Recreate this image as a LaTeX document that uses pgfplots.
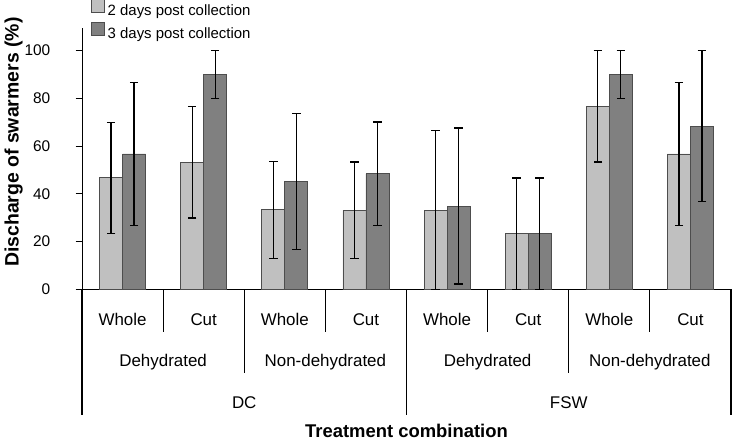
\documentclass[border=0pt]{standalone}
\usepackage{fontspec}
\setmainfont{Liberation Sans}
\usepackage{pgfplots}
\pgfplotsset{compat=1.18}
\definecolor{lightbar}{HTML}{C0C0C0}
\definecolor{darkbar}{HTML}{808080}
\definecolor{edge}{HTML}{4D4D4D}
\newcommand{\tl}[1]{{\fontsize{15.5}{18}\selectfont #1}}
\begin{document}
\begin{tikzpicture}
\useasboundingbox (0,0) rectangle (732bp,442bp);
\begin{axis}[
  at={(82bp,152.7bp)}, anchor=south west,
  scale only axis, width=649bp, height=261.3bp,
  xmin=-0.5, xmax=7.5, ymin=0, ymax=109.5,
  axis lines=left, axis line style={-, line width=1bp, black},
  ybar=0pt, bar width=23bp,
  xtick={0,...,7}, xticklabels={Whole,Cut,Whole,Cut,Whole,Cut,Whole,Cut},
  xtick style={draw=none}, ytick={0,20,40,60,80,100},
  ytick style={black, line width=1bp}, ytick align=outside, major tick length=6.5bp,
  yticklabels={\tl{0},\tl{20},\tl{40},\tl{60},\tl{80},\tl{100}},
  xticklabel style={anchor=base, inner sep=0pt, yshift=-29.5bp, font=\fontsize{17}{20}\selectfont},
  yticklabel style={anchor=east, inner sep=0pt, xshift=-25bp},
  ylabel={Discharge of swarmers (\%)},
  ylabel style={at={(axis description cs:-0.0978,0.563)}, anchor=base, font=\bfseries\fontsize{19.5}{23}\selectfont},
  xlabel={Treatment combination},
  xlabel style={at={(axis description cs:0.5,0)}, anchor=base, yshift=-148.3bp, font=\bfseries\fontsize{18.5}{22}\selectfont},
  clip=false,
  legend style={at={(axis description cs:0.0134,1.11)}, anchor=north west, draw=none, fill=none,
    inner sep=0pt, row sep=3bp, column sep=3bp, font=\fontsize{15}{18}\selectfont,
    nodes={inner sep=0pt, text height=11bp, text depth=3bp}},
  legend cell align=left,
  error bars/y dir=both, error bars/y explicit,
  error bars/error bar style={line width=1.3bp, black},
  error bars/error mark options={rotate=90, mark size=4.3bp, line width=1.3bp, black},
]
\addplot[fill=lightbar, draw=edge, line width=0.8bp,
  legend image code/.code={\draw[fill=lightbar, draw=edge, line width=0.8bp] (0bp,-1bp) rectangle (13bp,12bp);}]
  coordinates {
  (0,46.7) +- (0,23.3)
  (1,53.3) +- (0,23.4)
  (2,33.3) +- (0,20.3)
  (3,33.1) +- (0,20.3)
  (4,33.1) +- (0,33.3)
  (5,23.3) +- (0,23.3)
  (6,76.7) +- (0,23.3)
  (7,56.7) +- (0,29.9)
};
\addlegendentry{2 days post collection}
\addplot[fill=darkbar, draw=edge, line width=0.8bp,
  legend image code/.code={\draw[fill=darkbar, draw=edge, line width=0.8bp] (0bp,-1bp) rectangle (13bp,12bp);}]
  coordinates {
  (0,56.7) +- (0,29.9)
  (1,90.0) +- (0,10.0)
  (2,45.1) +- (0,28.5)
  (3,48.4) +- (0,21.7)
  (4,34.9) +- (0,32.7)
  (5,23.3) +- (0,23.3)
  (6,90.0) +- (0,10.0)
  (7,68.4) +- (0,31.6)
};
\addlegendentry{3 days post collection}
% separators
\pgfplotsinvokeforeach{0.5,2.5,4.5,6.5}{\draw[line width=1.1bp] (axis cs:#1,0) -- ([yshift=-42.4bp]axis cs:#1,0);}
\pgfplotsinvokeforeach{1.5,5.5}{\draw[line width=1.1bp] (axis cs:#1,0) -- ([yshift=-83.7bp]axis cs:#1,0);}
\pgfplotsinvokeforeach{-0.5,3.5,7.5}{\draw[line width=1.1bp] (axis cs:#1,0) -- ([yshift=-125.7bp]axis cs:#1,0);}
% second and third level labels
\pgfplotsinvokeforeach{0.5,4.5}{\node[anchor=base, inner sep=0pt, font=\fontsize{17}{20}\selectfont] at ([yshift=-76.8bp]axis cs:#1,0) {Dehydrated};}
\pgfplotsinvokeforeach{2.5,6.5}{\node[anchor=base, inner sep=0pt, font=\fontsize{17}{20}\selectfont] at ([yshift=-76.8bp]axis cs:#1,0) {Non-dehydrated};}
\node[anchor=base, inner sep=0pt, font=\fontsize{17}{20}\selectfont] at ([yshift=-118.8bp]axis cs:1.5,0) {DC};
\node[anchor=base, inner sep=0pt, font=\fontsize{17}{20}\selectfont] at ([yshift=-118.8bp]axis cs:5.5,0) {FSW};
\end{axis}
\end{tikzpicture}
\end{document}
